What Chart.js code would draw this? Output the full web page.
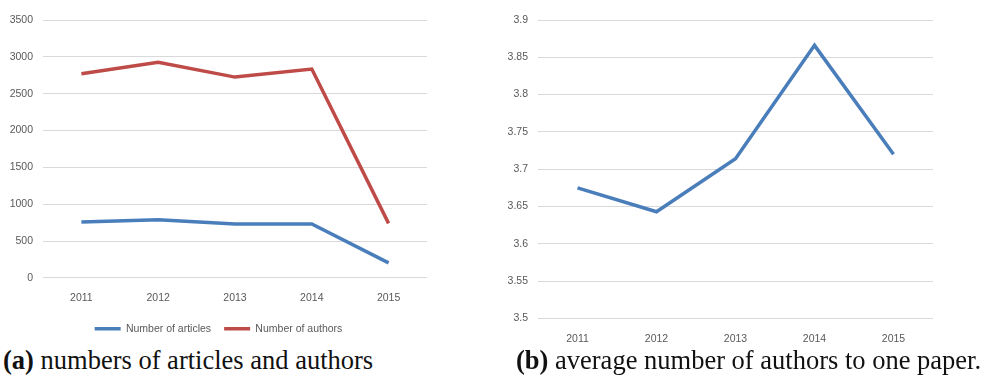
<!DOCTYPE html>
<html>
<head>
<meta charset="utf-8">
<script src="https://cdn.jsdelivr.net/npm/chart.js@4/dist/chart.umd.min.js"></script>
<style>
  body { margin: 0; background: #fff; width: 985px; height: 376px; position: relative; overflow: hidden; }
  .box { position: absolute; top: 0; }
  #left { left: 0; width: 440px; height: 344px; }
  #right { left: 490px; width: 495px; height: 351px; }
  .cap { position: absolute; font-family: 'Liberation Serif', 'Times New Roman', serif; font-size: 26.5px; line-height: 26.5px; color: #111; white-space: nowrap; }
  .cap b { font-weight: bold; }
</style>
</head>
<body>
<div class="box" id="left"><canvas id="chartA"></canvas></div>
<div class="box" id="right"><canvas id="chartB"></canvas></div>
<div class="cap" style="left:3px; top:347px;"><b>(a)</b> numbers of articles and authors</div>
<div class="cap" style="left:516px; top:347px;"><b>(b)</b> average number of authors to one paper.</div>
<script>
const years = ['2011', '2012', '2013', '2014', '2015'];
const articles = [759, 790, 732, 732, 204];
const authors = [2770, 2925, 2725, 2834, 740];
const avgAuthors = [3.675, 3.643, 3.714, 3.866, 3.720];

const tickFont = { family: "'Liberation Sans Narrow', 'Liberation Sans', Arial, sans-serif", size: 10.5 };
const tickColor = '#595959';
const gridColor = '#d9d9d9';
const blue = '#4a7ebb';
const red = '#be4b48';

Chart.defaults.animation = false;
Chart.defaults.font = tickFont;
Chart.defaults.color = tickColor;

new Chart(document.querySelector('#chartA').getContext('2d'), {
    type: 'line',
    data: {
        labels: years,
        datasets: [{
            label: 'Number of articles',
            data: articles,
            borderColor: blue,
            backgroundColor: blue,
            borderWidth: 3.5,
            pointRadius: 0,
            tension: 0
        }, {
            label: 'Number of authors',
            data: authors,
            borderColor: red,
            backgroundColor: red,
            borderWidth: 3.5,
            pointRadius: 0,
            tension: 0
        }]
    },
    options: {
        responsive: true,
        maintainAspectRatio: false,
        layout: { padding: { left: 10, right: 13, top: 20, bottom: 0 } },
        plugins: {
            legend: {
                position: 'bottom',
                labels: {
                    usePointStyle: true,
                    pointStyle: 'line',
                    pointStyleWidth: 26,
                    boxHeight: 10,
                    padding: 13,
                    color: tickColor,
                    font: tickFont
                }
            },
            tooltip: { enabled: false }
        },
        scales: {
            x: {
                offset: true,
                grid: { display: false },
                border: { display: false },
                ticks: { padding: 6, maxRotation: 0 }
            },
            y: {
                min: 0,
                max: 3500,
                grid: { color: gridColor, drawTicks: false },
                border: { display: false },
                afterFit: s => { s.width = 33; },
                ticks: {
                    stepSize: 500,
                    padding: 10,
                    callback: v => String(v)
                }
            }
        }
    }
});

new Chart(document.querySelector('#chartB').getContext('2d'), {
    type: 'line',
    data: {
        labels: years,
        datasets: [{
            label: 'average number of authors',
            data: avgAuthors,
            borderColor: blue,
            backgroundColor: blue,
            borderWidth: 3.5,
            pointRadius: 0,
            tension: 0
        }]
    },
    options: {
        responsive: true,
        maintainAspectRatio: false,
        layout: { padding: { left: 0, right: 52, top: 20, bottom: 0 } },
        plugins: {
            legend: { display: false },
            tooltip: { enabled: false }
        },
        scales: {
            x: {
                offset: true,
                grid: { display: false },
                border: { display: false },
                ticks: { padding: 6, maxRotation: 0 }
            },
            y: {
                min: 3.5,
                max: 3.9,
                grid: { color: gridColor, drawTicks: false },
                border: { display: false },
                afterFit: s => { s.width = 48; },
                ticks: {
                    stepSize: 0.05,
                    padding: 10,
                    callback: v => String(Math.round(v * 100) / 100)
                }
            }
        }
    }
});
</script>
</body>
</html>
